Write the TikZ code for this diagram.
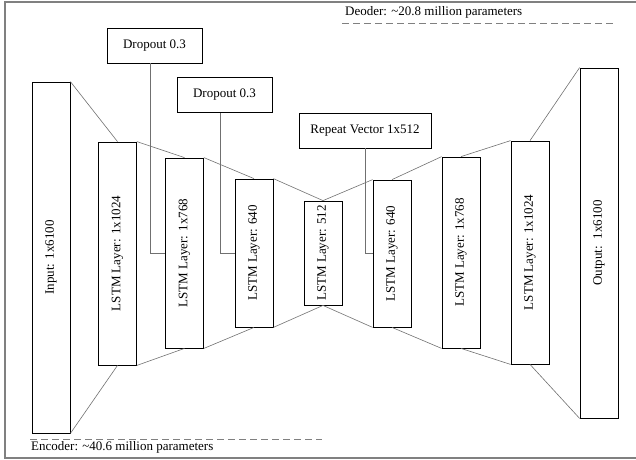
\documentclass[tikz,border=0pt]{standalone}
\usepackage{fontspec}
\setmainfont{Liberation Serif}
\usepackage{xcolor}
\usepackage{tikz}
\usetikzlibrary{positioning}

\definecolor{linkgray}{HTML}{707070}
\definecolor{framegray}{HTML}{808080}

\begin{document}
\begin{tikzpicture}[
    x=1pt,y=-1pt,
    font=\fontsize{13}{15}\selectfont,
    layer/.style={draw,line width=0.8pt,minimum width=38pt,inner sep=0pt,fill=white},
    tag/.style={draw,line width=0.8pt,minimum height=35pt,inner sep=0pt,fill=white},
    link/.style={draw=linkgray,line width=0.6pt},
    part/.style={draw=framegray,line width=1pt,dash pattern=on 7pt off 4pt}
  ]
    \useasboundingbox (0,0) rectangle (636,459);
    \draw[framegray,line width=1.2pt] (636,2) -- (5,2) -- (5,458) -- (636,458);

    % encoder
    \node[layer,minimum height=351pt] (inp) at (51,257.5) {\rotatebox{90}{Input: 1x6100}};
    \node[layer,minimum height=223pt] (enca) at (117.5,253.5) {\rotatebox{90}{LSTM Layer: 1x1024}};
    \node[layer,minimum height=190pt] (encb) at (184.5,253) {\rotatebox{90}{LSTM Layer: 1x768}};
    \node[layer,minimum height=148pt] (encc) at (254,253) {\rotatebox{90}{LSTM Layer: 640}};
    \node[layer,minimum height=104pt] (mid) at (323,253) {\rotatebox{90}{LSTM Layer: 512}};
    % decoder
    \node[layer,minimum height=147pt] (decc) at (392,253.5) {\rotatebox{90}{LSTM Layer: 640}};
    \node[layer,minimum height=191pt] (decb) at (461,252.5) {\rotatebox{90}{LSTM Layer: 1x768}};
    \node[layer,minimum height=223pt] (deca) at (530,252.5) {\rotatebox{90}{LSTM Layer: 1x1024}};
    \node[layer,minimum height=350pt] (out) at (599,243) {\rotatebox{90}{Output:\ \ 1x6100}};

    \node[tag,minimum width=95pt] (dropa) at (154.5,45.5) {Dropout 0.3};
    \node[tag,minimum width=95pt] (dropb) at (224.5,95) {Dropout 0.3};
    \node[tag,minimum width=132pt] (rep) at (365,130.5) {Repeat Vector 1x512};

    \path[link] ([xshift=-4pt]dropa.south) |- (encb.west);
    \path[link] ([xshift=-4pt]dropb.south) |- (encc.west);
    \path[link] (rep.south) |- (decc.west);

    % funnel outline
    \path[link] (inp.north east) -- (enca.north);
    \path[link] (enca.north east) -- (encb.north);
    \path[link] (encb.north east) -- (encc.north);
    \path[link] (encc.north east) -- (mid.north);
    \path[link] (mid.north) -- (decc.north west);
    \path[link] (decc.north) -- (decb.north west);
    \path[link] (decb.north) -- (deca.north west);
    \path[link] (deca.north) -- (out.north west);
    \path[link] (inp.south east) -- (enca.south);
    \path[link] (enca.south east) -- (encb.south);
    \path[link] (encb.south east) -- (encc.south);
    \path[link] (encc.south east) -- (mid.south);
    \path[link] (mid.south) -- (decc.south west);
    \path[link] (decc.south) -- (decb.south west);
    \path[link] (decb.south) -- (deca.south west);
    \path[link] (deca.south) -- (out.south west);

    \node[anchor=west,inner sep=0pt] (enctext) at (31,447) {Encoder: \textasciitilde40.6 million parameters};
    \node[anchor=west,inner sep=0pt] (dectext) at (345,12) {Deoder: \textasciitilde20.8 million parameters};
    \path[part] (30,439) -- (322,439);
    \path[part] (342,23) -- (613,23);
  \end{tikzpicture}
\end{document}
